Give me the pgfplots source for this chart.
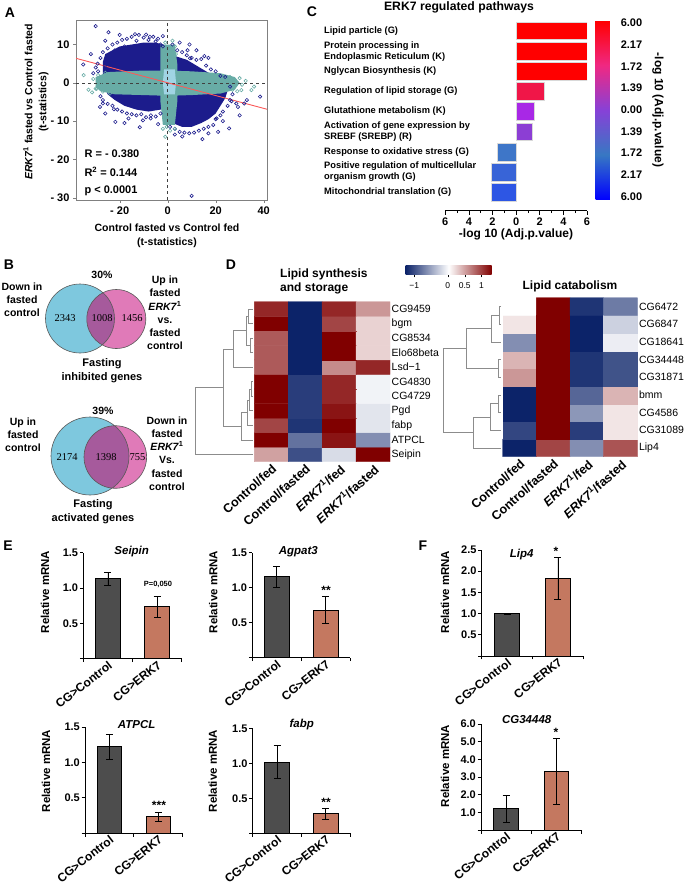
\documentclass[border=0pt]{standalone}
\usepackage{pgfplots}
\pgfplotsset{compat=1.18}
\usepackage{fontspec}
\setmainfont{Liberation Sans}
\newfontfamily\serifnum{Liberation Serif}
\newcommand{\fs}[2]{\fontsize{#1}{#2}\selectfont}
\newcommand{\erk}{\textit{ERK7}\textsuperscript{1}}
\definecolor{navyA}{RGB}{28,28,140}
\definecolor{tealA}{RGB}{104,172,166}
\definecolor{lbA}{RGB}{160,212,228}
\definecolor{gbar}{RGB}{77,77,77}
\definecolor{sbar}{RGB}{196,120,96}
\definecolor{vcyan}{RGB}{126,200,222}
\definecolor{vpink}{RGB}{224,122,184}
\definecolor{vpurp}{RGB}{166,90,156}
\definecolor{hmNavy}{RGB}{12,35,105}
\definecolor{hmRed}{RGB}{128,0,0}
\definecolor{cA}{RGB}{255,0,0}
\definecolor{cB}{RGB}{240,22,72}
\definecolor{cC}{RGB}{168,40,230}
\definecolor{cD}{RGB}{140,62,212}
\definecolor{cE}{RGB}{62,118,200}
\definecolor{cF}{RGB}{56,100,215}
\definecolor{cG}{RGB}{45,86,228}
\pgfplotsset{
 ebar/.style={scale only axis, xmin=0.5, xmax=2.5, ymin=0, clip=false,
   axis x line*=bottom, axis y line*=left,
   axis line style={black, line width=0.8pt},
   tick align=outside, major tick length=3.5pt, tick style={black, line width=0.8pt},
   xtick={0.5,1.5,2.5}, xticklabels={,,},
   extra x ticks={1,2}, extra x tick labels={CG>Control,CG>ERK7},
   extra x tick style={major tick length=0pt, xticklabel style={rotate=38, anchor=north east, inner sep=1pt, font=\fs{12}{12}\bfseries}},
   yticklabel style={font=\fs{11}{11}\bfseries, inner sep=1.5pt}},
 cbar/.style={ybar, bar width=24.7pt, bar shift=0pt, draw=black, line width=0.8pt,
   error bars/y dir=both, error bars/y explicit,
   error bars/error bar style={black, line width=0.8pt},
   error bars/error mark options={rotate=90, mark size=3.5pt, black, line width=0.8pt}},
 dend/.style={draw=black!45, line width=0.6pt, mark=none},
 hmap/.style={scale only axis, xmin=0.5, xmax=4.5, clip=false,
   axis line style={draw=none}, major tick length=0pt,
   xtick={1,2,3,4}, xticklabels={Control/fed, Control/fasted, \erk/fed, \erk/fasted},
   xticklabel style={rotate=42, anchor=north east, inner sep=1pt, font=\fs{12.5}{12.5}\bfseries},
   yticklabel pos=right, yticklabel style={anchor=west, inner sep=1.5pt, font=\fs{10.5}{10.5}},
   colormap={hm}{rgb255(0pt)=(12,35,105) rgb255(125pt)=(255,255,255) rgb255(255pt)=(128,0,0)},
   point meta min=-1.25, point meta max=1.3},
}
\begin{document}
\begin{tikzpicture}
\path[use as bounding box] (0,0) rectangle (689pt,-886pt);

% ---------------- Panel A ----------------
\begin{axis}[at={(76pt,-200pt)}, anchor=south west, scale only axis, width=191pt, height=180pt,
 xmin=-38.2, xmax=41.4, ymin=-30.6, ymax=16.4,
 axis line style={draw=black!50}, tick align=outside, xtick pos=bottom, ytick pos=left,
 major tick length=3pt, tick style={black!50},
 xtick={-20,0,20,40}, xticklabels={{- 20},0,20,40},
 ytick={-30,-20,-10,0,10}, yticklabels={{- 30},{- 20},{- 10},0,10},
 ticklabel style={font=\fs{11}{11}\bfseries}]
\addplot[fill=navyA, draw=none] coordinates {(-27,5.5) (-26,7.5) (-23,8.5) (-20,9.5) (-15,10) (-10,10.5) (-5,10.5) (-2,10) (0,9.5) (1,5) (1,-6) (-3,-7) (-8,-7.5) (-13,-7) (-18,-6) (-22,-4.5) (-25,-3) (-27,0)} -- cycle;
\addplot[fill=navyA, draw=none] coordinates {(0,8) (3,7) (8,6) (12,4.5) (16,3) (20,1.5) (23,0) (25,-2) (24,-4) (22,-6) (20,-8) (17,-9.5) (14,-10.5) (10,-11.5) (6,-11.5) (2,-10.5) (0,-9)} -- cycle;
\addplot[only marks, mark=o, mark size=1.7pt, navyA, mark options={line width=0.6pt}] coordinates {
(-30,14.8) (-24.7,13.2) (-13.6,12.7) (-7.4,12.0) (-35.2,4.8) (-29.2,5.0) (-28.2,-6.3) (-27,-5.4) (-22.4,-6.9) (-21.8,-10.2) (-16.3,-9.3) (-10.3,-9.8) (-7.1,-9.3) (-11.6,-11.6) (9.1,10.0) (8.3,8.5) (15.3,7.0) (9.3,6.4) (26.6,-4.8) (28.6,-5.4) (31.9,-5.4) (29.3,-6.3) (38.5,-3.6) (20.4,-9.3) (21,-12.8) (25.6,-11.9) (6.1,-14) (14.5,-14.7) (10,-29.5) (12.4,-10.2) (-32,7.5) (-31,2.5) (-26,-8) (-18,-10.5) (-4,-10.8) (3,-13.5) (17,-13.2) (23,-10) (30,-8.5) (33,-4.5) (-20,12.5) (-26,11) (-2,12.2) (5,10.5) (12,8.5) (17,6.5)
(-28,6.5) (-27,8) (-26,4.5) (-25,9) (-24,7) (-23,10) (-22,8.5) (-21,10.5) (-19,11.2) (-18,9.5) (-17,11.5) (-15,12) (-13,11) (-12,12.5) (-10,11.8) (-9,12.6) (-8,11.2) (-6,12) (-5,10.8) (-4,11.5) (-3,10) (-2,9.5)
(-29,3) (-30,4) (-28,-3.5) (-27,-4.5) (-25,-5.5) (-23,-6) (-21,-7) (-19,-7.5) (-17,-8) (-15,-8.2) (-13,-8.5) (-11,-8.2) (-9,-9) (-7,-8.5) (-5,-8.8) (-3,-8)
(2,10) (4,8.5) (6,8) (8,7.2) (10,6.5) (12,6) (14,6.2) (16,4.5) (18,3.5) (20,3) (22,1.8) (24,1.5) (26,-1) (27,-3) (26,-4.5) (25,-6) (23,-7.5) (22,-8.5) (20,-9.5) (19,-11) (17,-11.5) (15,-12) (13,-12.5) (11,-13) (9,-13.2) (7,-13) (5,-12.8) (3,-12) (1,-11.5)};
\addplot[fill=tealA, draw=none] coordinates {(-30,1.5) (-25,2.8) (-10,3.2) (0,3.2) (10,3) (22,2.5) (28,1.5) (30,0) (28,-1.8) (22,-2.8) (10,-3.2) (0,-3.4) (-10,-3.2) (-22,-3) (-28,-2.2) (-30,-1)} -- cycle;
\addplot[fill=tealA, draw=none] coordinates {(-3,10) (3,10) (4,5) (4,-5) (3,-11) (-2,-11) (-3,-5) (-3,5)} -- cycle;
\addplot[only marks, mark=o, mark size=1.7pt, tealA, mark options={line width=0.6pt}] coordinates {
(-35,2.0) (-29.6,-1.6) (-25.4,-1.4) (-27.5,-0.6) (-22.7,1.5) (26.6,0.7) (30.7,-1.9) (34.9,-1.9) (22.4,-1.0) (24.5,0.7) (19.5,-1.2) (2,8.8) (3.4,7.5) (-1,-14.1) (-0.4,-11.5) (-31,1) (-30,-1.5) (-29,2) (-27,-2.3) (-26,2.6) (-24,-2.8) (26,1.5) (27,-1.8) (28,0.8) (29,-2.2) (30,1.2) (31,-0.5) (-1,10.5) (2,11) (3,9.5) (-2,-12) (1,-12.5) (3,-12) (-33,-1.8) (-31.5,-2.5) (32.5,0.5) (36,-1)};
\addplot[fill=lbA, draw=none] coordinates {(-1.5,3.5) (3,3.5) (3.5,0) (3,-3) (-1.5,-3) (-2,0)} -- cycle;
\addplot[dashed, black!75, line width=0.6pt] coordinates {(0,-30.6) (0,16.4)};
\addplot[dashed, black!75, line width=0.6pt] coordinates {(-38.2,0) (41.4,0)};
\addplot[color={rgb,255:red,250;green,90;blue,90}, line width=0.9pt] coordinates {(-38.2,6.4) (41.4,-6.9)};
\end{axis}

% ---------------- Panel C ----------------
\begin{axis}[at={(445.3pt,-210.7pt)}, anchor=south west, scale only axis, width=141.7pt, height=190.1pt,
 xmin=-6, xmax=6, ymin=0.09, ymax=9.5,
 axis x line*=bottom, axis y line=none,
 xtick={-6,-4,-2,0,2,4,6}, xticklabels={6,4,2,0,2,4,6}, minor x tick num=1,
 tick align=outside, major tick length=4pt, minor tick length=2.5pt,
 axis line style={line width=0.8pt}, tick style={black, line width=0.8pt},
 xticklabel style={font=\fs{11}{11}\bfseries},
 colormap={cmC}{rgb255=(0,0,255) rgb255=(55,120,195) rgb255=(135,65,215) rgb255=(240,40,130) rgb255=(255,0,0)},
 point meta min=-0.152, point meta max=8.106,
 colorbar, colorbar style={at={([xshift=9pt,yshift=-0.4pt]parent axis.north east)}, anchor=north west,
   scale only axis, width=21.7pt, height=179pt, ytick={0,1,2,3,4,5,6,7,8},
   yticklabels={6.00,2.17,1.72,1.39,0.00,1.39,1.72,2.17,6.00},
   yticklabel style={font=\fs{11}{11}\bfseries}, major tick length=0pt, axis line style={draw=none}, yticklabel pos=right}]
\addplot[xbar, bar width=17.7pt, bar shift=0pt, fill=cA, draw=black!15] coordinates {(6,9)};
\addplot[xbar, bar width=17.7pt, bar shift=0pt, fill=cA, draw=black!15] coordinates {(6,8)};
\addplot[xbar, bar width=17.7pt, bar shift=0pt, fill=cA, draw=black!15] coordinates {(6,7)};
\addplot[xbar, bar width=17.7pt, bar shift=0pt, fill=cB, draw=black!15] coordinates {(2.34,6)};
\addplot[xbar, bar width=17.7pt, bar shift=0pt, fill=cC, draw=black!15] coordinates {(1.55,5)};
\addplot[xbar, bar width=17.7pt, bar shift=0pt, fill=cD, draw=black!15] coordinates {(1.36,4)};
\addplot[xbar, bar width=17.7pt, bar shift=0pt, fill=cE, draw=black!15] coordinates {(-1.58,3)};
\addplot[xbar, bar width=17.7pt, bar shift=0pt, fill=cF, draw=black!15] coordinates {(-2.12,2)};
\addplot[xbar, bar width=17.7pt, bar shift=0pt, fill=cG, draw=black!15] coordinates {(-2.15,1)};
\end{axis}

% ---------------- Panel D left heatmap ----------------
\begin{axis}[hmap, at={(254.3pt,-461.7pt)}, anchor=south west, width=135.7pt, height=160pt,
 ymin=0.5, ymax=11.5, ytick={1,2,3,4,5,6,7,8,9,10,11},
 yticklabels={Seipin,ATPCL,fabp,Pgd,CG4729,CG4830,Lsd−1,Elo68beta,CG8534,bgm,CG9459}]
\addplot[matrix plot*, mesh/cols=4, mesh/rows=11, point meta=explicit] table[meta=c] {
x y c
1 1 0.48
2 1 -1.0
3 1 -0.2
4 1 1.3
1 2 1.3
2 2 -0.8
3 2 1.2
4 2 -0.64
1 3 0.95
2 3 -1.15
3 3 1.3
4 3 -0.15
1 4 1.3
2 4 -1.1
3 4 1.2
4 4 -0.15
1 5 1.3
2 5 -1.1
3 5 1.1
4 5 -0.07
1 6 1.3
2 6 -1.1
3 6 1.1
4 6 -0.07
1 7 0.84
2 7 -1.25
3 7 0.59
4 7 1.1
1 8 0.84
2 8 -1.25
3 8 1.3
4 8 0.23
1 9 0.84
2 9 -1.25
3 9 1.3
4 9 0.23
1 10 1.3
2 10 -1.25
3 10 0.95
4 10 0.23
1 11 1.1
2 11 -1.25
3 11 1.1
4 11 0.53
};
\addplot[dend] coordinates {(0.45,11) (0.323,11) (0.323,10) (0.45,10)};
\addplot[dend] coordinates {(0.45,9) (0.373,9) (0.373,8) (0.45,8)};
\addplot[dend] coordinates {(0.323,10.5) (0.255,10.5) (0.255,8.5) (0.373,8.5)};
\addplot[dend] coordinates {(0.255,9.5) (-0.119,9.5) (-0.119,7) (0.45,7)};
\addplot[dend] coordinates {(0.45,6) (0.403,6) (0.403,5) (0.45,5)};
\addplot[dend] coordinates {(0.403,5.5) (0.353,5.5) (0.353,4) (0.45,4)};
\addplot[dend] coordinates {(0.353,4.75) (0.305,4.75) (0.305,3) (0.45,3)};
\addplot[dend] coordinates {(0.305,3.875) (0.129,3.875) (0.129,2) (0.45,2)};
\addplot[dend] coordinates {(-0.119,8.25) (-0.414,8.25) (-0.414,2.9375) (0.129,2.9375)};
\addplot[dend] coordinates {(-0.414,5.594) (-1.248,5.594) (-1.248,1) (0.45,1)};
\end{axis}

% ---------------- heatmap colour key ----------------
\begin{axis}[at={(405.7pt,-274.3pt)}, anchor=south west, scale only axis, width=86pt, height=8.6pt,
 xmin=-1.25, xmax=1.3, ymin=0, ymax=1, axis line style={draw=none},
 ytick=\empty, xtick={-1,0,0.5,1}, xticklabels={−1,0,0.5,1},
 xticklabel style={font=\fs{8.5}{8.5}, inner sep=1.5pt, yshift=-4pt}, tick align=outside, major tick length=3pt,
 tick style={black}, xtick pos=bottom]
\shade[left color=hmNavy, right color=hmRed, middle color=white] (axis cs:-1.25,0) rectangle (axis cs:1.3,1);
\end{axis}

% ---------------- Panel D right heatmap ----------------
\begin{axis}[hmap, at={(502.7pt,-456.7pt)}, anchor=south west, width=134.6pt, height=159pt,
 ymin=0.5, ymax=9.5, ytick={1,2,3,4,5,6,7,8,9},
 yticklabels={Lip4,CG31089,CG4586,bmm,CG31871,CG34448,CG18641,CG6847,CG6472}]
\addplot[matrix plot*, mesh/cols=4, mesh/rows=9, point meta=explicit] table[meta=c] {
x y c
1 1 -1.25
2 1 0.95
3 1 -0.64
4 1 0.87
1 2 -1.05
2 2 1.3
3 2 -1.1
4 2 0.13
1 3 -1.25
2 3 1.3
3 3 -0.59
4 3 0.13
1 4 -1.25
2 4 1.3
3 4 -0.87
4 4 0.38
1 5 0.53
2 5 1.3
3 5 -1.15
4 5 -0.98
1 6 0.38
2 6 1.3
3 6 -1.15
4 6 -0.98
1 7 -0.64
2 7 1.3
3 7 -1.25
4 7 -0.1
1 8 0.13
2 8 1.3
3 8 -1.25
4 8 -0.26
1 9 0.0
2 9 1.3
3 9 -1.15
4 9 -0.75
};
\addplot[dend] coordinates {(0.45,9) (0.399,9) (0.399,8) (0.45,8)};
\addplot[dend] coordinates {(0.399,8.5) (0.173,8.5) (0.173,7) (0.45,7)};
\addplot[dend] coordinates {(0.45,6) (0.369,6) (0.369,5) (0.45,5)};
\addplot[dend] coordinates {(0.173,7.75) (-0.570,7.75) (-0.570,5.5) (0.369,5.5)};
\addplot[dend] coordinates {(0.45,4) (0.369,4) (0.369,3) (0.45,3)};
\addplot[dend] coordinates {(0.369,3.5) (0.123,3.5) (0.123,2) (0.45,2)};
\addplot[dend] coordinates {(0.123,2.75) (-0.374,2.75) (-0.374,1) (0.45,1)};
\addplot[dend] coordinates {(-0.570,6.625) (-1.265,6.625) (-1.265,1.875) (-0.374,1.875)};
\end{axis}

% ---------------- Panel E / F bar charts ----------------
\begin{axis}[ebar, at={(83.3pt,-658.6pt)}, anchor=south west, width=98.4pt, height=105.9pt,
 ymax=1.5, ytick={0,0.5,1,1.5}, yticklabels={,0.5,1.0,1.5}]
\addplot[fill=gbar, cbar] coordinates {(1,1.13) +- (0,0.09)};
\addplot[fill=sbar, cbar] coordinates {(2,0.735) +- (0,0.15)};
\end{axis}
\begin{axis}[ebar, at={(252.3pt,-657.7pt)}, anchor=south west, width=97.7pt, height=105pt,
 ymax=1.5, ytick={0,0.5,1,1.5}, yticklabels={,0.5,1.0,1.5}]
\addplot[fill=gbar, cbar] coordinates {(1,1.16) +- (0,0.15)};
\addplot[fill=sbar, cbar] coordinates {(2,0.68) +- (0,0.19)};
\end{axis}
\begin{axis}[ebar, at={(85pt,-833pt)}, anchor=south west, width=97.7pt, height=105.9pt,
 ymax=1.5, ytick={0,0.5,1,1.5}, yticklabels={,0.5,1.0,1.5}]
\addplot[fill=gbar, cbar] coordinates {(1,1.22) +- (0,0.18)};
\addplot[fill=sbar, cbar] coordinates {(2,0.23) +- (0,0.06)};
\end{axis}
\begin{axis}[ebar, at={(252.7pt,-833.3pt)}, anchor=south west, width=97.3pt, height=105pt,
 ymax=1.5, ytick={0,0.5,1,1.5}, yticklabels={,0.5,1.0,1.5}]
\addplot[fill=gbar, cbar] coordinates {(1,1.02) +- (0,0.235)};
\addplot[fill=sbar, cbar] coordinates {(2,0.28) +- (0,0.075)};
\end{axis}
\begin{axis}[ebar, at={(481.7pt,-655.9pt)}, anchor=south west, width=101.6pt, height=106pt,
 ymax=2.5, ytick={0,0.5,1,1.5,2,2.5}, yticklabels={,0.5,1.0,1.5,2.0,2.5}]
\addplot[fill=gbar, cbar] coordinates {(1,1.0) +- (0,0.01)};
\addplot[fill=sbar, cbar] coordinates {(2,1.83) +- (0,0.5)};
\end{axis}
\begin{axis}[ebar, at={(481pt,-830pt)}, anchor=south west, width=100.7pt, height=106pt,
 ymax=6, ytick={0,1,2,3,4,5,6}, yticklabels={,1.0,2.0,3.0,4.0,5.0,6.0}]
\addplot[fill=gbar, cbar] coordinates {(1,1.2) +- (0,0.75)};
\addplot[fill=sbar, cbar] coordinates {(2,3.3) +- (0,1.87)};
\end{axis}

% ---------------- Text, Venn ----------------
\begin{scope}[x=1pt,y=-1pt]
\node[font=\fs{14}{14}\bfseries] at (10,13) {A};
\node[font=\fs{14}{14}\bfseries] at (312,12) {C};
\node[font=\fs{14}{14}\bfseries] at (9,265) {B};
\node[font=\fs{14}{14}\bfseries] at (231,265) {D};
\node[font=\fs{14}{14}\bfseries] at (8,546) {E};
\node[font=\fs{14}{14}\bfseries] at (423,546) {F};
\node[align=center, font=\fs{10.5}{14}\bfseries] at (167,236) {Control fasted vs Control fed\\(t-statistics)};
\node[rotate=90, align=center, font=\fs{10.5}{14}\bfseries] at (36,102) {\erk{} fasted vs Control fasted\\(t-statistics)};
\node[anchor=west, font=\fs{11}{11}\bfseries] at (81,154) {R = - 0.380};
\node[anchor=west, font=\fs{11}{11}\bfseries] at (81,172) {R\textsuperscript{2} = 0.144};
\node[anchor=west, font=\fs{11}{11}\bfseries] at (81,191) {p < 0.0001};
\node[font=\fs{12.2}{12.2}\bfseries] at (459,7) {ERK7 regulated pathways};
\begin{scope}[every node/.style={anchor=west, align=left, font=\fs{9.3}{11}\bfseries, inner sep=0pt}]
\node at (324,30.7) {Lipid particle (G)};
\node at (324,51.3) {Protein processing in\\Endoplasmic Reticulum (K)};
\node at (324,70.7) {Nglycan Biosynthesis (K)};
\node at (324,90.7) {Regulation of lipid storage (G)};
\node at (324,111) {Glutathione metabolism (K)};
\node at (324,131.2) {Activation of gene expression by\\SREBF (SREBP) (R)};
\node at (324,151.7) {Response to oxidative stress (G)};
\node at (324,171.8) {Positive regulation of multicellular\\organism growth (G)};
\node at (324,192.3) {Mitochondrial translation (G)};
\end{scope}
\node[font=\fs{12}{12}\bfseries] at (516,234) {-log 10 (Adj.p.value)};
\node[rotate=-90, font=\fs{12}{12}\bfseries] at (658,110) {-log 10 (Adj.p.value)};
\fill[vcyan] (80,318.5) circle[radius=34.5pt];
\fill[vpink] (116.3,319) circle[radius=29.5pt];
\begin{scope}
\clip (80,318.5) circle[radius=34.5pt];
\fill[vpurp] (116.3,319) circle[radius=29.5pt];
\end{scope}
\draw[black!65, line width=0.6pt] (80,318.5) circle[radius=34.5pt] (116.3,319) circle[radius=29.5pt];
\fill[vcyan] (90,456) circle[radius=39pt];
\fill[vpink] (115.3,457) circle[radius=31.3pt];
\begin{scope}
\clip (90,456) circle[radius=39pt];
\fill[vpurp] (115.3,457) circle[radius=31.3pt];
\end{scope}
\draw[black!65, line width=0.6pt] (90,456) circle[radius=39pt] (115.3,457) circle[radius=31.3pt];
\begin{scope}[every node/.style={font=\serifnum\fs{10.5}{10.5}}]
\node at (65,318) {2343};
\node at (102,318) {1008};
\node at (132,318) {1456};
\node at (67,457) {2174};
\node at (106,457) {1398};
\node at (137.5,457) {755};
\end{scope}
\begin{scope}[every node/.style={align=center, font=\fs{10.5}{13.2}\bfseries}]
\node at (102,275) {30\%};
\node at (103,411) {39\%};
\node at (22,299.5) {Down in\\fasted\\control};
\node at (165,313) {Up in\\fasted\\\erk\\vs.\\fasted\\control};
\node[font=\fs{11}{14}\bfseries] at (102,370.5) {Fasting\\inhibited genes};
\node at (23,435) {Up in\\fasted\\control};
\node at (167,453.5) {Down in\\fasted\\\erk\\Vs.\\fasted\\control};
\node[font=\fs{11}{14}\bfseries] at (93,512) {Fasting\\activated genes};
\end{scope}
\node[anchor=west, align=left, font=\fs{12}{14}\bfseries] at (276.7,281) {Lipid synthesis\\and storage};
\node[font=\fs{12}{12}\bfseries] at (570,286) {Lipid catabolism};
\begin{scope}[every node/.style={font=\fs{11.5}{11.5}\bfseries\itshape}]
\node at (131.7,552) {Seipin};
\node at (298.3,552) {Agpat3};
\node at (136.7,725) {ATPCL};
\node at (301.7,725) {fabp};
\node at (521.7,555) {Lip4};
\node at (526.7,720) {CG34448};
\end{scope}
\begin{scope}[every node/.style={rotate=90, font=\fs{11.5}{11.5}\bfseries}]
\node at (45,592) {Relative mRNA};
\node at (213.3,592) {Relative mRNA};
\node at (46,771) {Relative mRNA};
\node at (212.7,771) {Relative mRNA};
\node at (445,592) {Relative mRNA};
\node at (445,766) {Relative mRNA};
\end{scope}
\begin{scope}[every node/.style={font=\fs{12}{12}\bfseries}]
\node at (326,590) {**};
\node at (159,805) {***};
\node at (326,802) {**};
\node at (556,551) {*};
\node at (556,732) {*};
\end{scope}
\node[font=\fs{7.5}{7.5}\bfseries] at (158,584.3) {P=0,050};
\end{scope}
\end{tikzpicture}
\end{document}
